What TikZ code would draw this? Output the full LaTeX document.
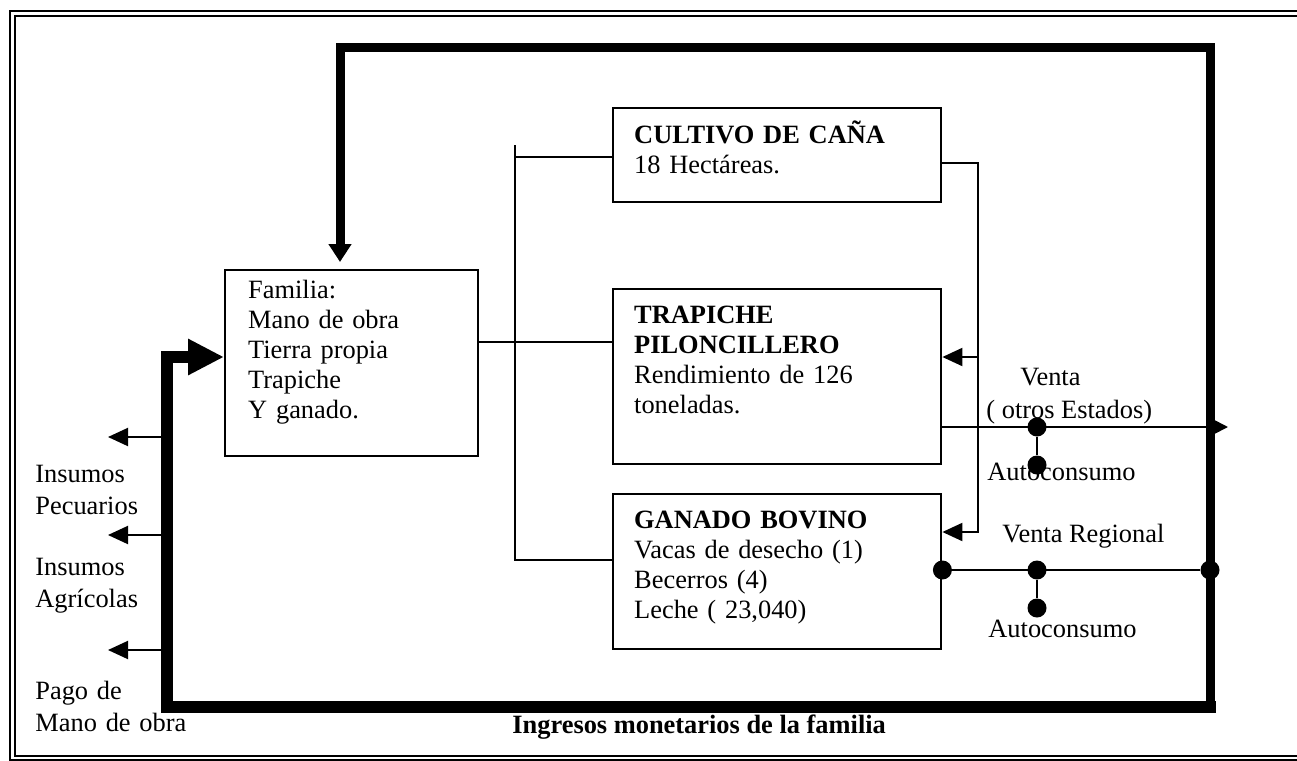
\documentclass[tikz,border=0pt]{standalone}
\usepackage{fontspec}
\setmainfont{Liberation Serif}
\usepackage{tikz}
\usetikzlibrary{arrows.meta,positioning,calc}

\begin{document}
\begin{tikzpicture}[
  x=0.5pt, y=-0.5pt,
  txt/.style={font=\fontsize{13.2}{15}\selectfont},
  box/.style={draw, line width=1.2pt, anchor=north west, align=left, txt, inner ysep=0pt},
  flow/.style={line width=1pt},
  arr/.style={line width=1pt, -{Triangle[length=10pt, width=9pt]}},
  lazo/.style={line width=#1, line cap=rect},
  dot/.style={circle, fill, inner sep=0pt, minimum size=9.5pt},
  lab/.style={txt, inner sep=0pt, anchor=base west},
  side/.style={lab, text width=3cm, align=left, font=\fontsize{13.2}{16}\selectfont},
  frame/.style={draw, double, double distance=1.4pt, line width=0.9pt}
]
\useasboundingbox (0,0) rectangle (1297,761);

% Marco
\draw[frame] (1300,13.5) -| (12.5,758) -- (1300,758);

% Cajas
\node[box, inner xsep=11.5pt, text width=103.5pt, text height=14pt, text depth=79pt] (fam) at (224,269)
  {Familia:\\Mano de obra\\Tierra propia\\Trapiche\\Y ganado.};
\node[box, inner xsep=10.5pt, text width=143pt, text height=17.5pt, text depth=29.5pt] (cult) at (612,107)
  {\textbf{CULTIVO DE CAÑA}\\18 Hectáreas.};
\node[box, inner xsep=10.5pt, text width=143pt, text height=17pt, text depth=70.5pt] (trap) at (612,288)
  {\textbf{TRAPICHE}\\\textbf{PILONCILLERO}\\Rendimiento de 126\\toneladas.};
\node[box, inner xsep=10.5pt, text width=143pt, text height=17pt, text depth=60.5pt] (gan) at (612,493)
  {\textbf{GANADO BOVINO}\\Vacas de desecho (1)\\Becerros (4)\\Leche ( 23,040)};

% Enlaces finos
\coordinate (bustop) at (515,145);
\coordinate (busc) at (515,157);
\coordinate (busg) at (515,560);
\draw[flow] (bustop) -- (busg) -- (busg -| gan.west);
\draw[flow] (busc) -- (busc -| cult.west);
\draw[flow] (fam.east |- 0,342) -- (trap.west |- 0,342);

% Retorno de la caña
\coordinate (rtop) at (978,163);
\coordinate (rbot) at (978,532);
\draw[arr] (cult.east |- rtop) -- (rtop) -- (rbot) -- (rbot -| gan.east);
\draw[arr] (rtop |- 0,357) -- (trap.east |- 0,357);

% Salidas del trapiche
\node[dot] (v1) at (1037,427) {};
\node[dot] (a1) at (1037,465) {};
\coordinate (vout) at (1228,427);
\draw[flow, -{Triangle[length=8pt, width=8pt]}] (trap.east |- v1) -- (vout);
\draw[flow] (v1) -- (a1);

% Salidas del ganado
\node[dot] (g0) at (gan.east |- 0,570) {};
\node[dot] (g1) at (1037,570) {};
\node[dot] (g2) at (1210,570) {};
\node[dot] (a2) at (1037,608) {};
\draw[flow] (g0) -- (g2);
\draw[flow] (g1) -- (a2);

% Lazo de ingresos
\coordinate (tl) at (340,47);
\coordinate (tr) at (1210,47);
\coordinate (br) at (1210,707);
\coordinate (bl) at (167,707);
\coordinate (lt) at (167,357);
\draw[lazo=4.5pt, -{Triangle[length=9pt, width=11pt]}, shorten >=3.5pt] (br) -- (tr) -- (tl) -- (tl |- fam.north);
\draw[lazo=6pt, -{Triangle[length=18pt, width=17pt]}] (br) -- (bl) -- (lt) -- (fam.west |- lt);

% Gastos
\coordinate (pec) at (108,437);
\coordinate (agr) at (108,535);
\coordinate (pago) at (108,650);
\draw[arr] (bl |- pec) -- (pec);
\draw[arr] (bl |- agr) -- (agr);
\draw[arr] (bl |- pago) -- (pago);

% Textos
\node[lab] (venta) at (1020,385) {Venta};
\node[lab] (otros) at (986,418) {( otros Estados)};
\node[lab] (auto1) at (987,480) {Autoconsumo};
\node[lab] (vreg) at (1002,542) {Venta Regional};
\node[lab] (auto2) at (988,637) {Autoconsumo};
\node[side] (pecl) at (35,482) {Insumos\\Pecuarios};
\node[side] (agrl) at (35,575) {Insumos\\Agrícolas};
\node[side] (pagol) at (35,699) {Pago de\\Mano de obra};
\node[lab] (ingr) at (512,733) {\bfseries Ingresos monetarios de la familia};

\end{tikzpicture}
\end{document}
